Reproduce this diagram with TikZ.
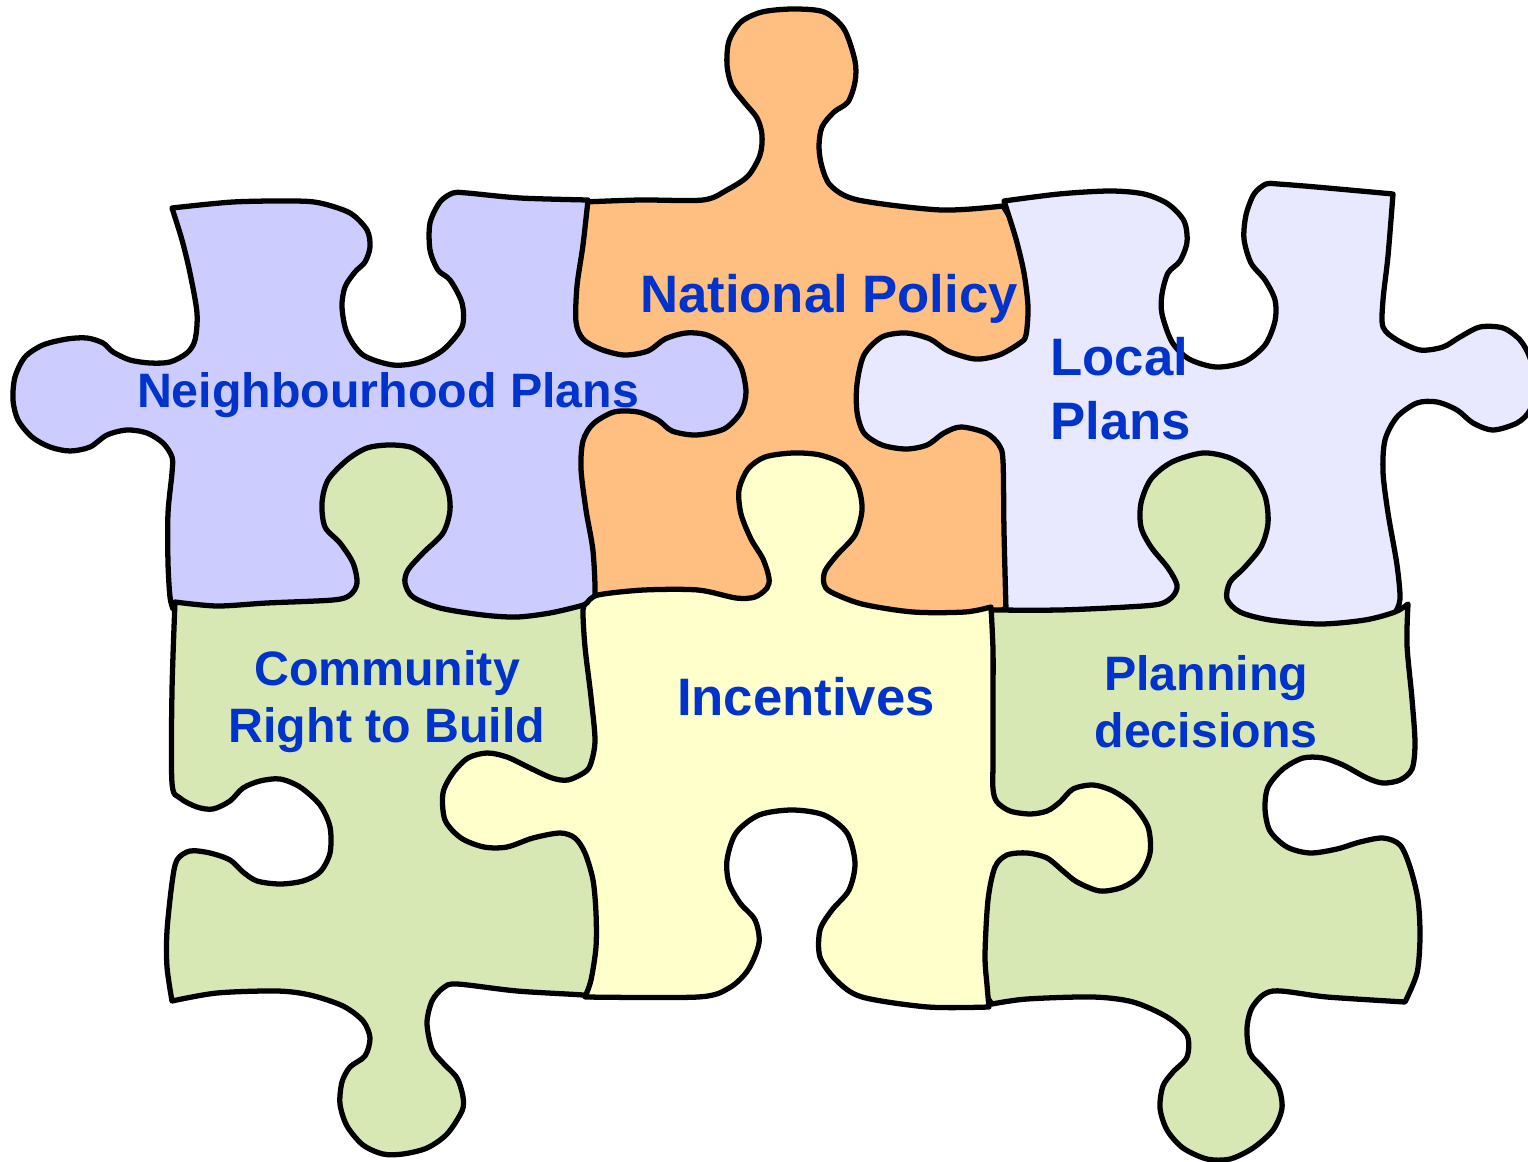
\documentclass[tikz,border=0pt]{standalone}
\usepackage{fontspec}
\setmainfont{Liberation Sans}
\definecolor{nfill}{HTML}{CCCCFF}
\definecolor{ofill}{HTML}{FFBF80}
\definecolor{lfill}{HTML}{E8E8FF}
\definecolor{lgrid}{HTML}{D6D6F8}
\definecolor{gfill}{HTML}{D8E8B5}
\definecolor{yfill}{HTML}{FFFFCC}
\definecolor{txt}{HTML}{0033CC}
\tikzset{
  piece/.style={draw=black, line width=3pt, line join=round, line cap=round},
  labbig/.style={text=txt, inner sep=0pt, anchor=base, font=\bfseries\fontsize{30}{36}\selectfont},
  labsmall/.style={text=txt, inner sep=0pt, anchor=base, font=\bfseries\fontsize{27.5}{33}\selectfont},
}
\def\Lpath{plot[smooth] coordinates {(1004,201) (1059,194) (1110,191) (1144,194) (1168,204) (1184,221) (1187,242) (1180,261) (1168,273) (1162,294) (1162,314) (1172,342) (1189,359) (1216,367) (1244,362) (1265,345) (1275,321) (1275,300) (1265,280) (1251,263) (1244,239) (1246,215) (1254,194) (1266,184) (1278,184) (1316,187) (1393,194)}
 -- plot[smooth] coordinates {(1393,194) (1388,256) (1383,300) (1383,327) (1397,340) (1420,350) (1443,347) (1460,337) (1480,327) (1503,328) (1520,340) (1530,358) (1536,385) (1530,410) (1517,423) (1493,430) (1473,423) (1457,410) (1437,402) (1417,403) (1397,417) (1385,440) (1383,472) (1388,513) (1397,565) (1400,599) (1395,613)}
 -- plot[smooth] coordinates {(1395,613) (1390,619) (1365,626) (1320,630) (1270,626) (1240,618) (1226,604) (1200,594) (1178,598) (1165,609) (1127,613) (1060,616) (1010,617) (1006,610)}
 -- plot[smooth] coordinates {(1006,610) (1004,531) (1003,461) (999,445) (986,433) (961,427) (944,433) (927,445) (906,449) (882,445) (864,433) (857,412) (857,384) (864,355) (882,337) (906,333) (930,339) (948,351) (975,359) (999,355) (1020,343) (1026,335) (1028,307) (1024,273) (1016,239) (1004,201)}
 -- cycle}
\begin{document}
\begin{tikzpicture}[x=0.02cm, y=-0.02cm]
\useasboundingbox (0,0) rectangle (1528,1162);
\clip (0,0) rectangle (1528,1162);
% National Policy (orange) - bottom layer
\filldraw[piece, fill=ofill]
 plot[smooth] coordinates {(584,202) (640,200) (703,200) (727,190) (748,176) (760,155) (762,135) (757,118) (744,102) (732,86) (727,65) (729,41) (741,22) (762,12) (793,9) (824,12) (844,29) (855,61) (855,82) (848,102) (834,112) (822,127) (819,147) (822,167) (831,186) (858,200) (941,210) (1003,206)}
 -- plot[smooth] coordinates {(1003,206) (1022,240) (1030,275) (1033,310) (1031,340) (1020,400) (1010,450) (1010,540) (1009,604)}
 -- plot[smooth] coordinates {(1009,604) (996,614) (965,618) (913,618) (862,610) (831,598) (800,592) (767,594) (755,603) (736,604) (698,596) (644,596) (598,601) (588,607)}
 -- plot[smooth] coordinates {(588,607) (589,596) (587,551) (580,510) (575,469) (577,441) (578,400) (578,345) (571,322) (572,286) (578,245) (584,202)}
 -- cycle;
% Neighbourhood Plans (lavender)
\filldraw[piece, fill=nfill]
 plot[smooth] coordinates {(172,208) (233,202) (293,201) (320,203) (350,213) (367,230) (370,247) (365,262) (355,272) (345,287) (342,307) (347,333) (363,355) (393,365) (420,362) (443,350) (462,327) (462,303) (450,280) (438,270) (430,250) (430,223) (440,202) (453,193) (467,193) (520,198) (588,200)}
 -- plot[smooth] coordinates {(588,200) (583,245) (577,286) (576,322) (583,339) (600,349) (624,355) (648,351) (665,339) (686,333) (707,335) (727,347) (741,367) (746,392) (741,412) (724,429) (696,435) (672,431) (658,420) (638,412) (614,412) (593,424) (583,441) (581,469) (586,510) (593,551) (595,596) (590,604)}
 -- plot[smooth] coordinates {(590,604) (588,611) (550,619) (517,623) (483,621) (440,614) (413,604) (380,596) (352,602) (333,606) (267,609) (217,612) (173,609)}
 -- plot[smooth] coordinates {(173,609) (170,597) (168,563) (168,513) (172,473) (172,457) (163,443) (147,433) (127,430) (107,435) (90,447) (70,451) (50,447) (32,437) (18,420) (13,400) (15,377) (25,357) (43,345) (67,339) (87,338) (103,343) (113,352) (130,360) (150,363) (170,362) (187,353) (195,340) (197,313) (190,273) (182,240) (172,208)}
 -- cycle;
% Local Plans (light grid)
\fill[lfill] \Lpath;
\begin{scope}
  \clip \Lpath;
  \draw[lgrid, line width=0.35pt, step=0.14cm] (16.8,-3.6) grid (30.8,-12.8);
\end{scope}
\draw[piece] \Lpath;
% Community Right to Build (green)
\filldraw[piece, fill=gfill]
 plot[smooth] coordinates {(175,602) (217,606) (267,603) (333,600) (350,595) (357,583) (353,563) (340,543) (325,527) (322,503) (328,480) (347,460) (367,448) (390,445) (413,448) (433,463) (447,487) (450,510) (443,533) (423,553) (408,570) (405,583) (413,597) (440,608) (483,615) (517,617) (550,613) (580,606) (588,603)}
 -- plot[smooth] coordinates {(588,603) (592,615) (592,647) (597,697) (601,740) (598,770) (596,800) (596,840) (598,853) (600,880) (602,913) (602,947) (597,980) (591,997)}
 -- plot[smooth] coordinates {(591,997) (583,995) (517,991) (457,984) (443,988) (432,1001) (427,1023) (432,1049) (443,1063) (457,1078) (463,1097) (462,1111) (447,1134) (427,1148) (403,1154) (383,1154) (363,1145) (347,1126) (340,1104) (342,1082) (350,1067) (365,1056) (370,1038) (363,1021) (343,1006) (310,995) (277,991) (217,993) (172,1001)}
 -- plot[smooth] coordinates {(172,1001) (167,967) (167,931) (172,883) (177,860) (190,851) (210,853) (230,860) (243,872) (257,881) (280,884) (303,881) (320,872) (330,853) (330,827) (320,805) (300,787) (280,779) (260,781) (243,788) (230,801) (213,809) (197,807) (180,798) (172,783) (172,691) (175,602)}
 -- cycle;
% Planning decisions (green)
\filldraw[piece, fill=gfill]
 plot[smooth] coordinates {(992,610) (1060,610) (1127,607) (1160,604) (1173,596) (1177,585) (1168,568) (1151,547) (1141,527) (1141,503) (1151,479) (1172,462) (1203,453) (1230,458) (1251,472) (1265,496) (1268,523) (1261,547) (1244,568) (1230,582) (1227,599) (1240,612) (1270,620) (1320,624) (1365,620) (1395,612) (1408,604)}
 -- plot[smooth] coordinates {(1408,604) (1407,645) (1412,699) (1415,743) (1412,769) (1400,780) (1383,783) (1367,778) (1343,765) (1323,758) (1303,758) (1283,769) (1268,787) (1265,809) (1270,831) (1287,847) (1310,853) (1337,849) (1360,842) (1383,838) (1400,845) (1410,867) (1418,900) (1420,937) (1417,973) (1405,1002)}
 -- plot[smooth] coordinates {(1405,1002) (1327,997) (1273,991) (1253,1006) (1247,1028) (1250,1053) (1263,1068) (1278,1086) (1282,1108) (1273,1130) (1253,1148) (1230,1159) (1207,1159) (1183,1148) (1167,1130) (1160,1108) (1163,1086) (1173,1072) (1187,1057) (1187,1035) (1167,1017) (1133,1002) (1093,997) (1027,999) (992,1004)}
 -- plot[smooth] coordinates {(992,1004) (981,985) (979,955) (982,900) (988,860) (987,830) (987,789) (987,700) (985,615) (992,610)}
 -- cycle;
% Incentives (yellow) - top layer
\filldraw[piece, fill=yfill]
 plot[smooth] coordinates {(587,603) (598,595) (644,590) (698,590) (736,598) (755,597) (767,588) (769,578) (763,559) (751,539) (741,514) (739,490) (748,469) (765,457) (793,453) (820,455) (844,465) (858,486) (862,510) (855,535) (837,555) (825,571) (824,584) (831,592) (862,604) (913,612) (965,612) (991,607)}
 -- plot[smooth] coordinates {(991,607) (993,650) (993,700) (993,760) (993,789) (997,802) (1010,811) (1030,814) (1047,811) (1060,802) (1073,789) (1093,785) (1113,791) (1133,805) (1148,827) (1150,853) (1140,875) (1123,887) (1100,891) (1077,882) (1063,871) (1047,858) (1027,853) (1007,855) (995,867) (988,900) (985,955) (987,985) (989,1007)}
 -- plot[smooth] coordinates {(989,1007) (928,1007) (862,997) (836,980) (820,957) (820,930) (832,910) (849,890) (855,863) (847,833) (824,815) (792,810) (759,815) (736,833) (727,860) (729,883) (740,903) (755,920) (759,943) (748,970) (729,988) (698,997) (585,997)}
 -- plot[smooth] coordinates {(585,997) (591,980) (596,947) (596,913) (593,880) (585,853) (575,838) (560,833) (533,838) (507,847) (484,847) (461,838) (445,820) (443,793) (453,773) (468,758) (487,753) (507,757) (530,768) (552,778) (568,780) (585,772) (591,763) (595,740) (591,697) (585,647) (583,610) (587,603)}
 -- cycle;
% labels
\node[labsmall] (np) at (388,407) {Neighbourhood Plans};
\node[labbig] (natpol) at (829,313) {National Policy};
\node[labbig, anchor=base west] (local1) at (1050,375) {Local};
\node[labbig, anchor=base west] (local2) at (1050,439) {Plans};
\node[labsmall] (crtb1) at (387,685) {Community};
\node[labsmall] (crtb2) at (387,742) {Right to Build};
\node[labbig] (inc) at (806,715) {Incentives};
\node[labsmall] (plan1) at (1206,690) {Planning};
\node[labsmall] (plan2) at (1206,747) {decisions};
\end{tikzpicture}
\end{document}
